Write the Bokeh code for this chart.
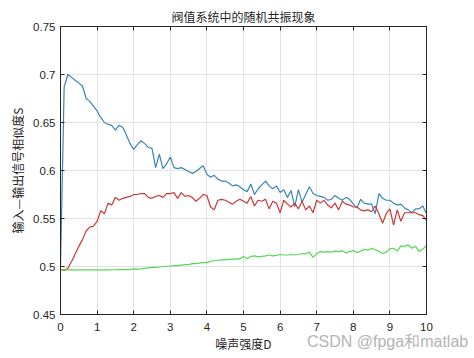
from bokeh.plotting import figure
from bokeh.models import FixedTicker, LinearAxis, CustomJSTickFormatter, Range1d, Div
from bokeh.layouts import column
from bokeh.embed import file_html
from bokeh.resources import INLINE

# ---- data ----
D = [round(i * 0.1, 1) for i in range(101)]

S_blue = [0.500, 0.687, 0.700, 0.697, 0.694, 0.691, 0.688, 0.675, 0.672, 0.667,
          0.662, 0.655, 0.650, 0.648, 0.647, 0.642, 0.647, 0.645, 0.637, 0.628,
          0.622, 0.627, 0.631, 0.628, 0.624, 0.623, 0.603, 0.617, 0.602, 0.607,
          0.614, 0.603, 0.602, 0.603, 0.601, 0.599, 0.597, 0.599, 0.602, 0.605,
          0.596, 0.593, 0.595, 0.591, 0.589, 0.589, 0.587, 0.584, 0.585, 0.583,
          0.580, 0.578, 0.586, 0.575, 0.581, 0.585, 0.589, 0.584, 0.581, 0.584,
          0.577, 0.580, 0.572, 0.579, 0.562, 0.580, 0.567, 0.575, 0.583, 0.576,
          0.574, 0.573, 0.572, 0.569, 0.570, 0.574, 0.571, 0.569, 0.572, 0.570,
          0.565, 0.561, 0.570, 0.566, 0.565, 0.565, 0.555, 0.576, 0.571, 0.569,
          0.569, 0.566, 0.564, 0.565, 0.561, 0.559, 0.556, 0.560, 0.560, 0.563,
          0.555]

S_red = [0.497, 0.496, 0.498, 0.505, 0.513, 0.521, 0.528, 0.537, 0.541, 0.542,
         0.547, 0.558, 0.555, 0.566, 0.564, 0.572, 0.569, 0.571, 0.572, 0.573,
         0.575, 0.575, 0.576, 0.576, 0.572, 0.571, 0.573, 0.574, 0.572, 0.576,
         0.576, 0.577, 0.571, 0.577, 0.573, 0.574, 0.572, 0.568, 0.571, 0.575,
         0.574, 0.562, 0.559, 0.569, 0.570, 0.569, 0.567, 0.565, 0.568, 0.570,
         0.568, 0.566, 0.573, 0.563, 0.569, 0.568, 0.570, 0.560, 0.568, 0.566,
         0.556, 0.569, 0.565, 0.562, 0.566, 0.560, 0.568, 0.559, 0.563, 0.556,
         0.569, 0.566, 0.569, 0.564, 0.561, 0.566, 0.559, 0.568, 0.565, 0.564,
         0.562, 0.562, 0.559, 0.558, 0.559, 0.557, 0.563, 0.555, 0.545, 0.555,
         0.560, 0.543, 0.559, 0.547, 0.556, 0.556, 0.556, 0.556, 0.554, 0.553,
         0.548]

S_green = [0.497, 0.4965, 0.4965, 0.4965, 0.4965, 0.4965, 0.4965, 0.4965, 0.4965, 0.4965,
           0.4965, 0.4965, 0.4965, 0.4965, 0.4966, 0.4966, 0.4967, 0.4967, 0.4968, 0.4968,
           0.4975, 0.4972, 0.4975, 0.498, 0.4985, 0.499, 0.499, 0.4995, 0.500, 0.500,
           0.5005, 0.501, 0.501, 0.5015, 0.502, 0.502, 0.503, 0.503, 0.5035, 0.504,
           0.504, 0.5055, 0.506, 0.5065, 0.507, 0.507, 0.5075, 0.5075, 0.508, 0.508,
           0.5105, 0.508, 0.5105, 0.511, 0.510, 0.5105, 0.511, 0.512, 0.511, 0.5115,
           0.5125, 0.512, 0.512, 0.5125, 0.512, 0.5125, 0.5135, 0.513, 0.515, 0.5095,
           0.5135, 0.5155, 0.515, 0.5155, 0.515, 0.516, 0.5155, 0.5165, 0.514, 0.5155,
           0.5165, 0.5145, 0.516, 0.518, 0.517, 0.519, 0.5175, 0.516, 0.5135, 0.515,
           0.5185, 0.519, 0.516, 0.5215, 0.521, 0.5225, 0.519, 0.521, 0.5155, 0.518,
           0.522]

x_ticks = [0, 1, 2, 3, 4, 5, 6, 7, 8, 9, 10]
x_tick_labels = ["0", "1", "2", "3", "4", "5", "6", "7", "8", "9", "10"]
y_ticks = [0.45, 0.5, 0.55, 0.6, 0.65, 0.7, 0.75]
y_tick_labels = ["0.45", "0.5", "0.55", "0.6", "0.65", "0.7", "0.75"]

title_text = "阀值系统中的随机共振现象"
x_label = "噪声强度D"
y_label = "输入—输出信号相似度S"
watermark = "CSDN @fpga和matlab"

# ---- figure ----
AX = "#262626"
p = figure(width=466, height=354, output_backend="svg", toolbar_location=None,
           x_range=Range1d(0, 10), y_range=Range1d(0.45, 0.75),
           min_border_left=60, min_border_right=40, min_border_top=26, min_border_bottom=40)
p.background_fill_color = "white"
p.border_fill_color = "white"
p.outline_line_color = AX
p.outline_line_width = 1

p.title.text = title_text
p.title.align = "center"
p.title.text_font = "Noto Sans CJK SC"
p.title.text_font_style = "normal"
p.title.text_font_size = "12px"
p.title.text_color = AX
p.title.standoff = 4

p.line(D, S_blue, line_color="#3a84b6", line_width=1.2)
p.line(D, S_red, line_color="#cc3838", line_width=1.2)
p.line(D, S_green, line_color="#55d855", line_width=1.2)

p.xaxis.ticker = FixedTicker(ticks=x_ticks)
p.yaxis.ticker = FixedTicker(ticks=y_ticks)
p.xaxis.major_label_overrides = {t: l for t, l in zip(x_ticks, x_tick_labels)}
p.yaxis.major_label_overrides = {t: l for t, l in zip(y_ticks, y_tick_labels)}

for ax in (p.xaxis[0], p.yaxis[0]):
    ax.axis_line_color = AX
    ax.major_tick_line_color = AX
    ax.major_tick_in = 4
    ax.major_tick_out = 0
    ax.minor_tick_line_color = None
    ax.major_label_text_font = "Liberation Sans"
    ax.major_label_text_font_size = "11.5px"
    ax.major_label_text_color = AX
    ax.axis_label_text_font = "Noto Sans CJK SC"
    ax.axis_label_text_font_style = "normal"
    ax.axis_label_text_font_size = "12px"
    ax.axis_label_text_color = AX

p.xaxis.axis_label = x_label
p.yaxis.axis_label = y_label
p.xaxis.major_label_standoff = 8
p.xaxis.axis_label_standoff = 1
p.yaxis.major_label_standoff = 5
p.yaxis.axis_label_standoff = 4

p.xgrid.ticker = FixedTicker(ticks=x_ticks)
p.ygrid.ticker = FixedTicker(ticks=y_ticks)
p.grid.grid_line_color = "#e3e3e3"
p.grid.grid_line_width = 1

# box ticks on top and right
empty = CustomJSTickFormatter(code="return ''")
top = LinearAxis(ticker=FixedTicker(ticks=x_ticks), formatter=empty,
                 major_tick_in=4, major_tick_out=0, minor_tick_line_color=None,
                 axis_line_color=AX, major_tick_line_color=AX, major_label_standoff=0)
right = LinearAxis(ticker=FixedTicker(ticks=y_ticks), formatter=empty,
                   major_tick_in=4, major_tick_out=0, minor_tick_line_color=None,
                   axis_line_color=AX, major_tick_line_color=AX, major_label_standoff=0)
p.add_layout(top, "above")
p.add_layout(right, "right")

wm = Div(text=watermark, width=170, height=20, margin=(-22, 0, 0, 307),
         styles={"color": "#b4b4b4", "font-family": "Liberation Sans, Arial, sans-serif",
                 "font-size": "16px", "line-height": "20px", "white-space": "nowrap"})

layout = column(p, wm, spacing=0)
open("out.html", "w").write(file_html(layout, INLINE))
